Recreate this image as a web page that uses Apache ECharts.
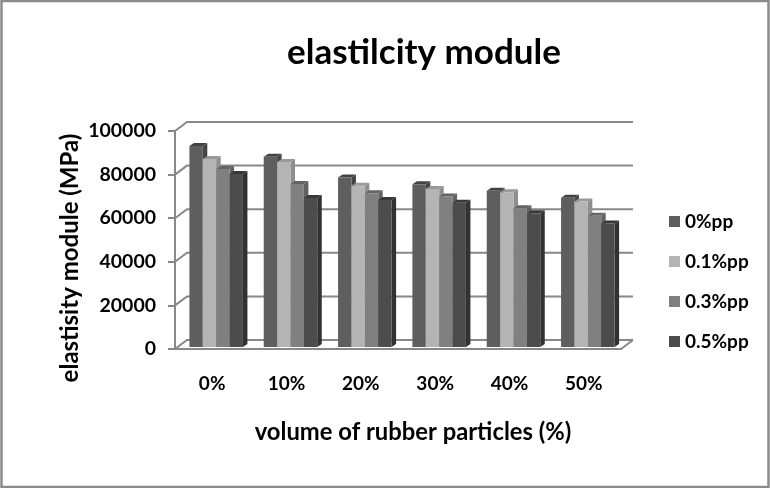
<!DOCTYPE html>
<html>
<head>
<meta charset="utf-8">
<style>html,body{margin:0;padding:0;background:#fff}#c{width:770px;height:488px}</style>
<script src="https://cdn.jsdelivr.net/npm/echarts@6/dist/echarts.min.js"></script>
</head>
<body>
<div id="c"></div>
<script>
const categories = ['0%','10%','20%','30%','40%','50%'];
const pp0  = [92200,87300,77700,74600,71700,68500];
const pp01 = [86200,84900,74000,72500,71000,66700];
const pp03 = [81600,74800,70500,69000,63600,60200];
const pp05 = [79400,68300,67400,66200,61300,56700];
const seriesNames = ['0%pp','0.1%pp','0.3%pp','0.5%pp'];
const yTicks = [0,20000,40000,60000,80000,100000];

const font = 'Lato, "Open Sans", sans-serif';
const axisColor = '#888888';
const wallDepth = [12,-9], barDepth = [4.5,-3], barShift = [4,-2];
const faces = [
  {front:'#5e5e5e', top:'#434343', side:'#444444'},
  {front:'#b4b4b4', top:'#999999', side:'#8e8e8e'},
  {front:'#808080', top:'#646464', side:'#616161'},
  {front:'#4c4c4c', top:'#383838', side:'#323232'}
];
const chart = echarts.init(document.getElementById('c'), null, {renderer:'canvas'});

function wallItem(params, api){
  const v = api.value(0);
  const c = api.coord([0, v]);
  const cw = api.size([1,0])[0];
  const a = [c[0]-cw/2, c[1]];
  const w = cw * categories.length;
  return {type:'polyline', silent:true,
    shape:{points:[a,[a[0]+wallDepth[0],a[1]+wallDepth[1]],[a[0]+w+wallDepth[0],a[1]+wallDepth[1]]]},
    style:{stroke:axisColor,lineWidth:2,fill:null}};
}
function rightEdge(params, api){
  const c = api.coord([0,0]);
  const cw = api.size([1,0])[0];
  const x = c[0]-cw/2 + cw*categories.length;
  return {type:'line', silent:true,
    shape:{x1:x,y1:c[1],x2:x+wallDepth[0],y2:c[1]+wallDepth[1]},
    style:{stroke:axisColor,lineWidth:2}};
}
function barItem(k){
  return function(params, api){
    const c = api.value(0), v = api.value(1);
    const base = api.coord([c,0]);
    const top = api.coord([c,v]);
    const cw = api.size([1,0])[0];
    const bw = cw*0.18;
    const x0 = base[0] - 2*bw + k*bw + barShift[0];
    const x1 = x0 + bw;
    const yb = base[1] + barShift[1];
    const yt = top[1] + barShift[1];
    const f = faces[k], dx = barDepth[0], dy = barDepth[1];
    return {type:'group', children:[
      {type:'polygon',shape:{points:[[x1,yb],[x1+dx,yb+dy],[x1+dx,yt+dy],[x1,yt]]},style:{fill:f.side}},
      {type:'polygon',shape:{points:[[x0,yt],[x0+dx,yt+dy],[x1+dx,yt+dy],[x1,yt]]},style:{fill:f.top}},
      {type:'rect',shape:{x:x0,y:yt,width:bw,height:yb-yt},style:{fill:f.front}}
    ]};
  };
}
const values = [pp0,pp01,pp03,pp05];
chart.setOption({
  animation:false,
  backgroundColor:'#ffffff',
  title:{text:'elastilcity module',left:419,top:30,textAlign:'center',
    textStyle:{fontFamily:font,fontSize:35,fontWeight:'bold',color:'#000'}},
  legend:{orient:'vertical',left:664,top:205,itemWidth:11,itemHeight:11,itemGap:17,icon:'rect',
    data:seriesNames,selectedMode:false,
    textStyle:{fontFamily:font,fontSize:19,fontWeight:'bold',color:'#000',lineHeight:23}},
  grid:{left:175,right:149,top:131,bottom:139},
  xAxis:{type:'category',data:categories,boundaryGap:true,
    name:'volume of rubber particles (%)',nameLocation:'middle',nameGap:71,nameMoveOverlap:false,
    nameTextStyle:{fontFamily:font,fontSize:23.8,fontWeight:'bold',color:'#000',padding:[0,0,0,30]},
    axisLine:{lineStyle:{color:axisColor,width:2}},
    axisTick:{length:7,alignWithLabel:false,lineStyle:{color:axisColor,width:2}},
    axisLabel:{margin:25,fontFamily:font,fontSize:19,fontWeight:'bold',color:'#000'}},
  yAxis:{type:'value',min:0,max:100000,interval:20000,
    name:'elastisity module (MPa)',nameLocation:'middle',nameGap:93,nameMoveOverlap:false,
    nameTextStyle:{fontFamily:font,fontSize:24,fontWeight:'bold',color:'#000',padding:[0,36,0,0]},
    axisLine:{show:true,lineStyle:{color:axisColor,width:2}},
    axisTick:{show:true,length:7,lineStyle:{color:axisColor,width:2}},
    splitLine:{show:false},
    axisLabel:{margin:19,fontFamily:font,fontSize:19.5,fontWeight:'bold',color:'#000',padding:[2,0,0,0],formatter:v=>String(v)}},
  graphic:[{type:'rect',silent:true,z:100,
    shape:{x:1.5,y:1,width:767,height:486},
    style:{fill:null,stroke:'#8a8a8a',lineWidth:2.5}}],
  series:[
    {type:'custom',name:'wall',data:yTicks.map(v=>[v]),renderItem:wallItem,encode:{y:0},silent:true,z:1,clip:false},
    {type:'custom',name:'edge',data:[[0]],renderItem:rightEdge,silent:true,z:1,clip:false,encode:{y:0}}
  ].concat(seriesNames.map((n,k)=>({
    type:'custom',name:n,z:3,clip:false,
    itemStyle:{color:faces[k].front},
    data:values[k].map((v,i)=>[i,v]),
    encode:{x:0,y:1},
    renderItem:barItem(k)
  })))
});
</script>
</body>
</html>
